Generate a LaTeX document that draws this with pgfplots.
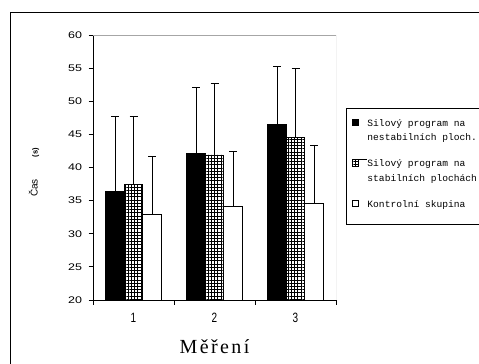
\documentclass[border=0pt]{standalone}
\usepackage{fontspec}
\usepackage{graphicx}
\setmainfont{Liberation Sans}
\newfontfamily\legfont{Liberation Mono}
\newfontfamily\xlabfont{Liberation Serif}[LetterSpace=12]
\newcommand\ytf[1]{\scalebox{1.3}[1]{\fontsize{9.6bp}{11bp}\selectfont #1}}
\newcommand\xtf[1]{\scalebox{1}[1.35]{\fontsize{10bp}{11bp}\selectfont #1}}
\newcommand\lgf{\legfont\fontsize{9.6bp}{14.5bp}\selectfont}
\usepackage{pgfplots}
\pgfplotsset{compat=1.18}
\usetikzlibrary{patterns.meta}
\pgfplotsset{
  legimg/.style={legend image code/.code={\path[draw=none, fill=none] (0bp,0bp) -- (14.7bp,0bp);
    \draw[##1, line width=1bp] (0bp,-0.5bp) rectangle (6.5bp,-7bp);}},
  lastimg/.style={legend image code/.code={\path[draw=none, fill=none] (0bp,0bp) -- (14.7bp,0bp) -- (14.7bp,-14.5bp);
    \draw[##1, line width=1bp] (0bp,-0.5bp) rectangle (6.5bp,-7bp);}},
}
\begin{document}
\begin{tikzpicture}[x=1bp,y=1bp]
\useasboundingbox (0,0) rectangle (479,363);
\clip (0,0) rectangle (479,363);
\fill[white] (0,0) rectangle (479,363);
\draw[black, line width=0.8bp] (10,351) rectangle (520,-30);
\begin{axis}[
  at={(93bp,63bp)}, anchor=south west,
  scale only axis, width=243bp, height=265bp,
  xmin=0.5, xmax=3.5, ymin=20, ymax=60,
  ytick={20,25,...,60},
  yticklabel={\ytf{\pgfmathprintnumber{\tick}}},
  xtick={0.5,1.5,2.5,3.5}, xticklabels={},
  extra x ticks={1,2,3}, extra x tick labels={\xtf{1},\xtf{2},\xtf{3}},
  extra x tick style={major tick length=0pt},
  tick align=outside, major tick length=4.5bp,
  tick style={black, line width=0.8bp},
  axis lines*=left,
  axis line style={-, black, line width=0.8bp},
  /pgf/number format/assume math mode=true,
  yticklabel style={xshift=-3bp},
  xticklabel style={yshift=-10bp},
  every axis y label/.style={at={(rel axis cs:0,0.5)}, xshift=-59bp, yshift=-5bp, rotate=90, anchor=center},
  ylabel={\fontsize{10bp}{12bp}\selectfont Čas\hspace{22bp}\fontsize{7.5bp}{9bp}\selectfont\bfseries (s)},
  every axis x label/.style={at={(rel axis cs:0.5,0)}, yshift=-47bp, anchor=center},
  xlabel={\xlabfont\fontsize{20bp}{22bp}\selectfont Měření},
  ybar=0pt, bar width=18.5bp,
  error bars/y dir=plus, error bars/y explicit,
  error bars/error bar style={black, line width=0.8bp},
  error bars/error mark options={black, rotate=90, mark size=4bp, line width=0.8bp},
  legend style={at={(rel axis cs:1.041,0.7245)}, anchor=north west, draw=black, line width=0.8bp,
    font=\lgf,
    nodes={font=\lgf, inner sep=0bp, text depth=2bp},
    cells={align=left, anchor=north west},
    row sep=16.5bp, inner xsep=5.5bp, inner ysep=10.3bp},
  legimg,
]
\draw[gray!70, line width=0.8bp] (rel axis cs:0,1) -- (rel axis cs:1,1) -- (rel axis cs:1,0);
\addplot[draw=black, fill=black, line width=0.8bp] coordinates {
  (1,36.4) +- (0,11.3)
  (2,42.1) +- (0,10.0)
  (3,46.5) +- (0,8.8)
};
\addlegendentry{\lgf Silový program na\\\lgf nestabilních ploch.}
\addplot[draw=black, fill=white, line width=0.8bp, postaction={pattern={Hatch[angle=0, distance=3.2bp, line width=0.6bp]}}] coordinates {
  (1,37.5) +- (0,10.2)
  (2,41.9) +- (0,10.8)
  (3,44.55) +- (0,10.45)
};
\addlegendentry{\lgf Silový program na\\\lgf stabilních plochách}
\addplot[draw=black, fill=white, line width=0.8bp, lastimg] coordinates {
  (1,32.9) +- (0,8.8)
  (2,34.1) +- (0,8.3)
  (3,34.6) +- (0,8.8)
};
\addlegendentry{\lgf Kontrolní skupina}
\end{axis}
\end{tikzpicture}
\end{document}
